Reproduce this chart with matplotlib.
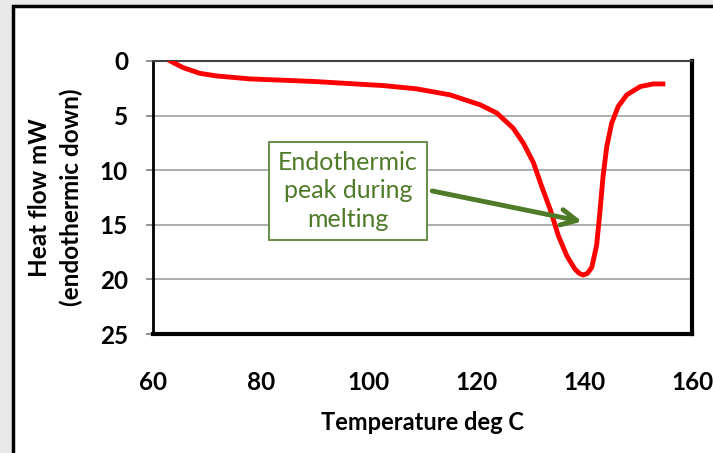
import matplotlib
matplotlib.use("Agg")
import matplotlib.pyplot as plt
from matplotlib.patches import Rectangle

plt.rcParams['font.family'] = ['Lato', 'DejaVu Sans']

# DSC trace
temperature = [63.2, 65.6, 68.7, 71.8, 78.0, 84.2, 90.4, 96.5, 102.7, 108.9, 115.1,
               120.7, 123.8, 126.8, 128.7, 130.6, 132.1, 133.7, 135.2, 136.8, 138.3,
               139.1, 139.8, 140.6, 141.4, 142.3, 142.9, 143.5, 144.2, 145.1, 146.3,
               147.9, 150.4, 152.8, 154.6]
heat_flow = [0.0, 0.61, 1.13, 1.37, 1.64, 1.76, 1.89, 2.07, 2.25, 2.55, 3.1,
             4.01, 4.77, 6.14, 7.51, 9.33, 11.47, 13.6, 16.0, 17.86, 19.07,
             19.45, 19.6, 19.45, 18.9, 16.9, 13.9, 10.55, 7.8, 5.69, 4.17,
             3.1, 2.34, 2.1, 2.1]

x_ticks = [60, 80, 100, 120, 140, 160]
y_ticks = [0, 5, 10, 15, 20, 25]

note_text = "Endothermic\npeak during\nmelting"
note_green = '#4f7a28'

fig = plt.figure(figsize=(7.13, 4.53), dpi=100, facecolor='#e9e9e9')
# white panel with black frame, running off the right and bottom edges
fig.patches.append(Rectangle((13 / 713, -0.05), 1.05, 1 - 6.5 / 453 + 0.05,
                             transform=fig.transFigure, facecolor='white',
                             edgecolor='black', lw=2.5, zorder=-10))

ax = fig.add_axes([153 / 713, 1 - 334 / 453, (692 - 153) / 713, (334 - 61) / 453])
ax.plot(temperature, heat_flow, color='red', lw=3.5, solid_joinstyle='round', zorder=3)

ax.set_xlim(60, 160)
ax.set_ylim(25, 0)
ax.set_xticks(x_ticks)
ax.set_yticks(y_ticks)
ax.yaxis.grid(True, color='#a0a0a0', lw=1.2)
ax.set_axisbelow(True)

ax.tick_params(axis='x', length=0, pad=27, labelsize=17.5)
ax.tick_params(axis='y', length=5, width=1.2, color='#808080', pad=13, labelsize=17.5)
for lab in ax.get_xticklabels() + ax.get_yticklabels():
    lab.set_fontweight('bold')

ax.spines['top'].set_color('#404040')
ax.spines['top'].set_linewidth(1.5)
ax.spines['left'].set_linewidth(2)
ax.spines['right'].set_linewidth(3)
ax.spines['bottom'].set_linewidth(3)

ax.set_xlabel('Temperature deg C', fontsize=17, fontweight='bold', labelpad=12)
ax.set_ylabel('Heat flow mW\n(endothermic down)', fontsize=17.5, fontweight='bold',
              labelpad=12, linespacing=1.45)

ax.annotate('', xy=(139.6, 14.7), xytext=(111.8, 11.9),
            arrowprops=dict(arrowstyle='->', color=note_green, lw=3.5,
                            mutation_scale=28, shrinkA=0, shrinkB=0), zorder=4)
ax.text(96.2, 11.9, note_text, ha='center', va='center', fontsize=18,
        color=note_green, linespacing=1.3, zorder=5,
        bbox=dict(boxstyle='square,pad=0.35', facecolor='white',
                  edgecolor=note_green, lw=1.2))

fig.savefig('out.png', dpi=100, facecolor=fig.get_facecolor())
